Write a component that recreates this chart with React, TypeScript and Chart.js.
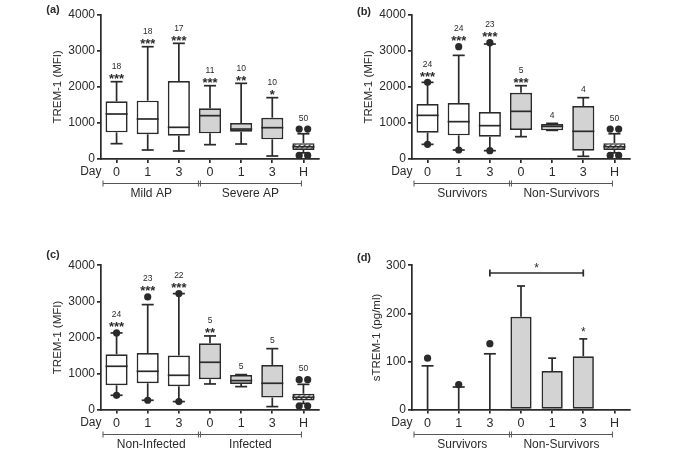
import React, { useEffect, useRef } from "react";
import { Chart, registerables } from "chart.js";

Chart.register(...registerables);

const FONT = "'Liberation Sans', Arial, Helvetica, sans-serif";
const INK = "#2a2a2a";
const GRAY_FILL = "#d3d3d3";

const DAY_LABELS = ["0", "1", "3", "0", "1", "3", "H"];
const FILL_KIND = ["white", "white", "white", "gray", "gray", "gray", "hatch"];

// ---- (a) TREM-1 by severity ----
const A_GROUPS = ["Mild AP", "Severe AP"];
const A_MIN = [425, 249, 222, 397, 416, 83, 170];
const A_Q1 = [739, 684, 647, 711, 757, 545, 250];
const A_MED = [1247, 1109, 878, 1201, 830, 868, 340];
const A_Q3 = [1598, 1617, 2162, 1404, 998, 1145, 440];
const A_MAX = [2143, 3113, 3206, 2032, 2097, 1700, 700];
const A_OUTLIERS: number[][] = [[], [], [], [], [], [], [830, 830, 100, 100]];
const A_N = ["18", "18", "17", "11", "10", "10", "50"];
const A_SIG = ["***", "***", "***", "***", "**", "*", ""];

// ---- (b) TREM-1 by survival ----
const B_GROUPS = ["Survivors", "Non-Survivors"];
const B_MIN = [406, 249, 231, 619, 794, 74, 170];
const B_Q1 = [730, 656, 619, 804, 794, 231, 250];
const B_MED = [1210, 1035, 924, 1321, 905, 767, 340];
const B_Q3 = [1524, 1552, 1303, 1838, 970, 1469, 440];
const B_MAX = [2125, 2873, 3187, 2032, 988, 1700, 700];
const B_OUTLIERS: number[][] = [[2125, 406], [3113, 249], [3224, 231], [], [], [], [830, 830, 100, 100]];
const B_N = ["24", "24", "23", "5", "4", "4", "50"];
const B_SIG = ["***", "***", "***", "***", "", "", ""];

// ---- (c) TREM-1 by infection ----
const C_GROUPS = ["Non-Infected", "Infected"];
const C_MIN = [397, 259, 222, 711, 637, 83, 170];
const C_Q1 = [674, 730, 647, 841, 711, 333, 250];
const C_MED = [1201, 1062, 951, 1312, 804, 730, 340];
const C_Q3 = [1533, 1570, 1497, 1838, 961, 1238, 440];
const C_MAX = [2125, 2910, 3215, 2042, 970, 1690, 700];
const C_OUTLIERS: number[][] = [[2125, 397], [3122, 259], [3215, 222], [], [], [], [830, 830, 100, 100]];
const C_N = ["24", "23", "22", "5", "5", "5", "50"];
const C_SIG = ["***", "***", "***", "**", "", "", ""];

// ---- (d) sTREM-1 by survival ----
const D_GROUPS = ["Survivors", "Non-Survivors"];
const D_MEAN: (number | null)[] = [0, 0, 0, 193, 80, 111, null];
const D_ERR_TOP: (number | null)[] = [91, 47, 116, 257, 107, 147, null];
const D_POINTS: number[][] = [[107], [52], [137], [], [], [], []];
const D_SIG = ["", "", "", "", "", "*", ""];
const D_BRACKET_FROM = 2;
const D_BRACKET_TO = 5;
const D_BRACKET_VALUE = 284;
const D_BRACKET_LABEL = "*";

type BoxData = {
  min: number[]; q1: number[]; med: number[]; q3: number[]; max: number[];
  outliers: number[][]; n: string[]; sig: string[];
};
type BarData = {
  mean: (number | null)[]; errTop: (number | null)[]; points: number[][]; sig: string[];
  bracket: { from: number; to: number; value: number; label: string };
};
type Panel = {
  tag: string; left: number; top: number; width: number; height: number;
  areaTop: number; areaBottom: number; yMax: number; yStep: number; yTitle: string; titleX: number;
  groups: string[]; labelDy: number; box?: BoxData; bar?: BarData;
};

const PANELS: Panel[] = [
  {
    tag: "(a)", left: 0, top: 0, width: 330, height: 205, areaTop: 14.7, areaBottom: 159,
    yMax: 4000, yStep: 1000, yTitle: "TREM-1 (MFI)", titleX: 58, groups: A_GROUPS, labelDy: -5,
    box: { min: A_MIN, q1: A_Q1, med: A_MED, q3: A_Q3, max: A_MAX, outliers: A_OUTLIERS, n: A_N, sig: A_SIG },
  },
  {
    tag: "(b)", left: 311, top: 0, width: 342, height: 205, areaTop: 14.7, areaBottom: 159,
    yMax: 4000, yStep: 1000, yTitle: "TREM-1 (MFI)", titleX: 58, groups: B_GROUPS, labelDy: -3,
    box: { min: B_MIN, q1: B_Q1, med: B_MED, q3: B_Q3, max: B_MAX, outliers: B_OUTLIERS, n: B_N, sig: B_SIG },
  },
  {
    tag: "(c)", left: 0, top: 240, width: 330, height: 213, areaTop: 25.3, areaBottom: 169.6,
    yMax: 4000, yStep: 1000, yTitle: "TREM-1 (MFI)", titleX: 58, groups: C_GROUPS, labelDy: -10,
    box: { min: C_MIN, q1: C_Q1, med: C_MED, q3: C_Q3, max: C_MAX, outliers: C_OUTLIERS, n: C_N, sig: C_SIG },
  },
  {
    tag: "(d)", left: 311, top: 240, width: 342, height: 213, areaTop: 25.3, areaBottom: 169.6,
    yMax: 300, yStep: 100, yTitle: "sTREM-1 (pg/ml)", titleX: 66, groups: D_GROUPS, labelDy: -7,
    bar: {
      mean: D_MEAN, errTop: D_ERR_TOP, points: D_POINTS, sig: D_SIG,
      bracket: { from: D_BRACKET_FROM, to: D_BRACKET_TO, value: D_BRACKET_VALUE, label: D_BRACKET_LABEL },
    },
  },
];

function makeHatch(): CanvasPattern | string {
  const c = document.createElement("canvas");
  c.width = 5; c.height = 5;
  const g = c.getContext("2d");
  if (!g) return "#fff";
  g.fillStyle = "#ffffff";
  g.fillRect(0, 0, 5, 5);
  g.strokeStyle = "#444";
  g.lineWidth = 1.3;
  g.beginPath();
  g.moveTo(-1, 6); g.lineTo(6, -1);
  g.moveTo(-1, 1); g.lineTo(1, -1);
  g.moveTo(4, 6); g.lineTo(6, 4);
  g.stroke();
  const pat = g.createPattern(c, "repeat");
  return pat || "#fff";
}

function makePlugin(p: Panel) {
  const line = (ctx: CanvasRenderingContext2D, x1: number, y1: number, x2: number, y2: number) => {
    ctx.beginPath(); ctx.moveTo(x1, y1); ctx.lineTo(x2, y2); ctx.stroke();
  };
  const dot = (ctx: CanvasRenderingContext2D, cx: number, cy: number) => {
    ctx.beginPath(); ctx.arc(cx, cy, 3.6, 0, Math.PI * 2); ctx.fill();
  };
  return {
    id: "extras",
    afterDatasetsDraw(chart: any) {
      const ctx: CanvasRenderingContext2D = chart.ctx;
      const x = chart.scales.x;
      const y = chart.scales.y;
      const meta = chart.getDatasetMeta(0);
      ctx.save();
      ctx.strokeStyle = INK; ctx.fillStyle = INK; ctx.lineWidth = 1.7;
      ctx.textAlign = "center"; ctx.textBaseline = "alphabetic";
      if (p.box) {
        const b = p.box;
        for (let i = 0; i < DAY_LABELS.length; i++) {
          const cx = x.getPixelForValue(i);
          const hw = (meta.data[i] as any).width / 2;
          const yMed = y.getPixelForValue(b.med[i]);
          const yQ1 = y.getPixelForValue(b.q1[i]);
          const yQ3 = y.getPixelForValue(b.q3[i]);
          const yMx = y.getPixelForValue(b.max[i]);
          const yMn = y.getPixelForValue(b.min[i]);
          line(ctx, cx - hw, yMed, cx + hw, yMed);
          if (yMx < yQ3) line(ctx, cx, yQ3, cx, yMx);
          line(ctx, cx - 6, yMx, cx + 6, yMx);
          if (yMn > yQ1) line(ctx, cx, yQ1, cx, yMn);
          line(ctx, cx - 6, yMn, cx + 6, yMn);
          let topPix = yMx;
          const outs = b.outliers[i];
          outs.forEach((v, k) => {
            const same = outs.filter((w) => w === v).length;
            const idx = outs.slice(0, k).filter((w) => w === v).length;
            const off = same > 1 ? (idx - (same - 1) / 2) * 8.5 : 0;
            const py = y.getPixelForValue(v);
            dot(ctx, cx + off, py);
            topPix = Math.min(topPix, py - 3);
          });
          if (b.sig[i]) {
            ctx.font = `bold 13px ${FONT}`;
            ctx.fillText(b.sig[i], cx, topPix + 1.5);
          }
          ctx.font = `8.5px ${FONT}`;
          ctx.fillText(b.n[i], cx, b.sig[i] ? topPix - 12.5 : topPix - 5.5);
        }
      }
      if (p.bar) {
        const d = p.bar;
        for (let i = 0; i < DAY_LABELS.length; i++) {
          const top = d.errTop[i];
          if (top == null) continue;
          const cx = x.getPixelForValue(i);
          const m = d.mean[i] ?? 0;
          const y0 = y.getPixelForValue(m);
          const yt = y.getPixelForValue(top);
          line(ctx, cx, y0, cx, yt);
          const cw = m > 0 ? 4 : 6;
          line(ctx, cx - cw, yt, cx + cw, yt);
          d.points[i].forEach((v) => dot(ctx, cx, y.getPixelForValue(v)));
          if (d.sig[i]) {
            ctx.font = `12px ${FONT}`;
            ctx.fillText(d.sig[i], cx, yt - 3);
          }
        }
        const br = d.bracket;
        const x1 = x.getPixelForValue(br.from);
        const x2 = x.getPixelForValue(br.to);
        const yb = y.getPixelForValue(br.value);
        line(ctx, x1, yb, x2, yb);
        line(ctx, x1, yb - 3.5, x1, yb + 3.5);
        line(ctx, x2, yb - 3.5, x2, yb + 3.5);
        ctx.font = `12px ${FONT}`;
        ctx.fillText(br.label, (x1 + x2) / 2, yb - 1);
      }
      ctx.restore();
    },
    afterDraw(chart: any) {
      const ctx: CanvasRenderingContext2D = chart.ctx;
      const a = chart.chartArea;
      const x = chart.scales.x;
      ctx.save();
      ctx.fillStyle = INK;
      ctx.font = `12px ${FONT}`;
      ctx.textAlign = "right"; ctx.textBaseline = "middle";
      ctx.fillText("Day", a.left + 0.5, a.bottom + 13);
      const by = Math.round(a.bottom + 24) + 0.5;
      const xl = a.left + 2;
      const xr = x.getPixelForValue(DAY_LABELS.length - 1) - 2;
      const xm = (x.getPixelForValue(2) + x.getPixelForValue(3)) / 2 + 5;
      ctx.strokeStyle = "#555"; ctx.lineWidth = 1;
      const l = (x1: number, y1: number, x2: number, y2: number) => {
        ctx.beginPath(); ctx.moveTo(x1, y1); ctx.lineTo(x2, y2); ctx.stroke();
      };
      l(xl, by, xr, by);
      l(xl, by - 3, xl, by + 3);
      l(xr, by - 3, xr, by + 3);
      l(xm - 1, by - 3, xm - 1, by + 3);
      l(xm + 1, by - 3, xm + 1, by + 3);
      ctx.textAlign = "center";
      ctx.font = `12px ${FONT}`;
      ctx.fillText(p.groups[0], (xl + xm) / 2, a.bottom + 35);
      ctx.fillText(p.groups[1], (xm + xr) / 2, a.bottom + 35);
      ctx.font = `bold 11px ${FONT}`;
      ctx.fillText(p.tag, 53, a.top + p.labelDy);
      ctx.restore();
    },
  };
}

function PanelChart({ p }: { p: Panel }) {
  const ref = useRef<HTMLCanvasElement | null>(null);
  useEffect(() => {
    if (!ref.current) return;
    const hatch = makeHatch();
    const colors = FILL_KIND.map((k) => (k === "white" ? "#ffffff" : k === "gray" ? GRAY_FILL : hatch));
    const data = p.box
      ? DAY_LABELS.map((_, i) => [p.box!.q1[i], p.box!.q3[i]])
      : p.bar!.mean.map((v) => v);
    const xAxisHeight = p.height - p.areaBottom;
    const tickFont = { family: FONT, size: 12 };
    const chart = new Chart(ref.current, {
      type: "bar",
      data: {
        labels: DAY_LABELS,
        datasets: [
          {
            data: data as any,
            backgroundColor: colors as any,
            borderColor: INK,
            borderWidth: 1.7,
            borderSkipped: false,
            barPercentage: p.box ? 0.71 : 0.68,
            categoryPercentage: 1,
          },
        ],
      },
      options: {
        animation: false,
        responsive: false,
        maintainAspectRatio: false,
        events: [],
        layout: { padding: { top: p.areaTop, left: 0, right: p.width - 319, bottom: 0 } },
        plugins: { legend: { display: false }, tooltip: { enabled: false } },
        scales: {
          x: {
            type: "category",
            offset: true,
            ticks: { font: { family: FONT, size: 12.5 }, color: INK, padding: 2, autoSkip: false, maxRotation: 0 },
            grid: { drawOnChartArea: false, drawTicks: true, tickLength: 4, offset: false, color: INK, lineWidth: 1.7 },
            border: { display: true, color: INK, width: 1.7 },
            afterFit: (s: any) => { s.height = xAxisHeight; },
          },
          y: {
            min: 0,
            max: p.yMax,
            ticks: {
              stepSize: p.yStep, font: tickFont, color: INK, padding: 2,
              callback: (v: any) => String(v),
            },
            grid: { drawOnChartArea: false, drawTicks: true, tickLength: 4, color: INK, lineWidth: 1.7 },
            border: { display: true, color: INK, width: 1.7 },
            title: {
              display: true, text: p.yTitle, color: INK,
              font: { family: FONT, size: 11.5 },
              padding: { top: p.titleX - 6.9, bottom: 0 },
            },
            afterFit: (s: any) => { s.width = 101; },
          },
        },
      } as any,
      plugins: [makePlugin(p) as any],
    });
    return () => chart.destroy();
  }, [p]);
  return (
    <canvas
      ref={ref}
      width={p.width}
      height={p.height}
      style={{ position: "absolute", left: p.left, top: p.top, width: p.width, height: p.height }}
    />
  );
}

export default function App() {
  return (
    <div style={{ position: "fixed", left: 0, top: 0, width: 685, height: 453, background: "#fff", overflow: "hidden" }}>
      {PANELS.map((p) => (
        <PanelChart key={p.tag} p={p} />
      ))}
    </div>
  );
}
